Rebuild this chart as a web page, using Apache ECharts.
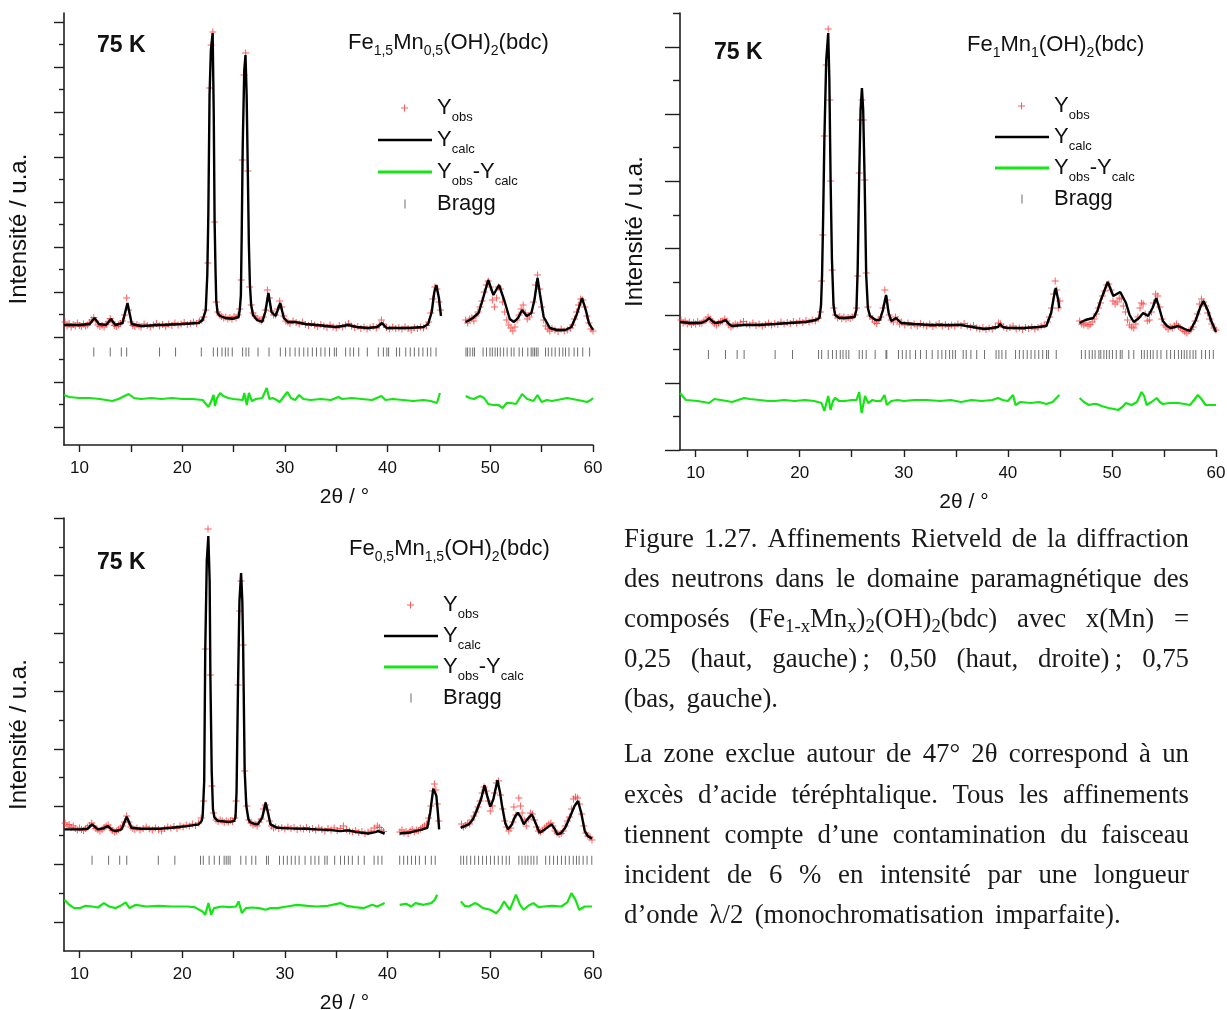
<!DOCTYPE html>
<html><head><meta charset="utf-8">
<script src="https://cdn.jsdelivr.net/npm/echarts@6/dist/echarts.min.js"></script>
<style>html,body{margin:0;padding:0;background:#fff}#c{width:1227px;height:1010px}</style>
</head><body><div id="c"></div>
<script>
// ---------------- DATA ----------------
const xTickValues = [10,15,20,25,30,35,40,45,50,55,60];
const xLabelValues = [10,20,30,40,50,60];

// panel 1 : Fe1,5Mn0,5(OH)2(bdc)
const p1Calc = [[8.5,1200],[10.0,1200],[11.0,1210],[11.46,1270],[11.9,1210],[12.6,1200],[13.07,1260],[13.5,1200],[14.2,1220],[14.68,1420],[15.1,1210],[16.0,1190],[17.8,1200],[20.0,1210],[21.6,1220],[22.0,1250],[22.3,1350],[22.45,1700],[22.55,2300],[22.67,3500],[22.8,3950],[22.97,4120],[23.08,3300],[23.16,2250],[23.25,1750],[23.32,1450],[23.45,1320],[23.7,1290],[24.2,1270],[24.9,1262],[25.5,1280],[25.62,1360],[25.72,1500],[25.8,2100],[25.9,3000],[26.05,3750],[26.17,3900],[26.28,3500],[26.4,2700],[26.5,2000],[26.6,1600],[26.72,1400],[26.9,1300],[27.3,1250],[27.8,1230],[28.1,1330],[28.4,1520],[28.7,1330],[29.1,1290],[29.55,1420],[29.9,1270],[30.3,1230],[31.0,1230],[32.0,1210],[33.1,1200],[35.0,1180],[36.2,1200],[37.0,1180],[38.1,1170],[39.0,1180],[39.45,1220],[39.9,1170],[40.8,1170],[42.0,1170],[43.5,1180],[43.95,1210],[44.3,1330],[44.55,1530],[44.75,1600],[45.0,1470],[45.2,1290],[46.4,null],[47.6,1230],[48.0,1250],[48.3,1270],[48.86,1320],[49.25,1450],[49.8,1650],[50.3,1500],[50.85,1600],[51.35,1450],[51.9,1260],[52.3,1230],[52.7,1270],[53.1,1350],[53.55,1290],[54.0,1320],[54.3,1450],[54.6,1670],[54.85,1500],[55.2,1280],[55.8,1170],[56.5,1150],[57.3,1150],[57.9,1180],[58.4,1300],[58.93,1470],[59.3,1350],[59.6,1220],[60.0,1150]];
const p1Obs = [[8.6,1230],[8.8,1190],[9.0,1215],[9.2,1180],[9.4,1205],[9.6,1190],[9.8,1220],[10.0,1195],[10.2,1185],[10.4,1210],[10.6,1190],[10.8,1200],[11.0,1225],[11.2,1250],[11.4,1275],[11.6,1240],[11.8,1200],[12.0,1185],[12.2,1195],[12.4,1180],[12.6,1210],[12.8,1230],[13.0,1265],[13.2,1230],[13.4,1195],[13.6,1185],[13.8,1200],[14.0,1215],[14.2,1240],[14.4,1300],[14.6,1470],[14.8,1350],[15.0,1230],[15.2,1195],[15.4,1185],[15.6,1205],[15.8,1190],[16.0,1180],[16.3,1210],[16.6,1195],[16.9,1180],[17.2,1200],[17.5,1215],[17.8,1190],[18.1,1205],[18.4,1185],[18.7,1210],[19.0,1195],[19.3,1220],[19.6,1200],[19.9,1210],[20.2,1225],[20.5,1205],[20.8,1215],[21.1,1230],[21.4,1215],[21.7,1240],[21.9,1250],[22.1,1280],[22.3,1350],[22.5,1820],[22.67,3570],[22.83,4000],[22.99,4130],[23.16,2230],[23.32,1430],[23.48,1330],[23.65,1300],[23.85,1285],[24.05,1270],[24.25,1280],[24.45,1260],[24.65,1275],[24.85,1260],[25.05,1285],[25.25,1270],[25.45,1300],[25.6,1360],[25.76,1650],[25.85,2850],[26.02,3700],[26.18,3920],[26.4,2740],[26.57,1580],[26.73,1400],[26.9,1320],[27.1,1290],[27.3,1265],[27.5,1250],[27.7,1240],[27.9,1280],[28.1,1350],[28.3,1550],[28.5,1470],[28.7,1340],[28.9,1300],[29.1,1300],[29.3,1360],[29.5,1440],[29.7,1380],[29.9,1290],[30.1,1240],[30.3,1230],[30.5,1215],[30.8,1240],[31.1,1225],[31.4,1210],[31.7,1230],[32.0,1205],[32.3,1195],[32.6,1215],[32.9,1200],[33.2,1185],[33.5,1205],[33.8,1190],[34.1,1175],[34.4,1200],[34.7,1180],[35.0,1170],[35.3,1195],[35.6,1180],[35.9,1200],[36.2,1215],[36.5,1190],[36.8,1175],[37.1,1185],[37.4,1165],[37.7,1180],[38.0,1160],[38.3,1175],[38.6,1185],[38.9,1170],[39.2,1200],[39.4,1250],[39.6,1210],[39.9,1175],[40.2,1160],[40.5,1180],[40.8,1165],[41.1,1175],[41.4,1160],[41.7,1180],[42.0,1165],[42.3,1150],[42.6,1175],[42.9,1165],[43.2,1180],[43.5,1170],[43.8,1195],[44.0,1230],[44.2,1320],[44.4,1460],[44.6,1580],[44.8,1560],[45.0,1430],[45.15,1350],[47.6,1250],[47.8,1220],[48.0,1260],[48.2,1270],[48.4,1240],[48.6,1290],[48.8,1330],[49.0,1380],[49.2,1440],[49.4,1530],[49.6,1600],[49.8,1640],[50.0,1580],[50.2,1450],[50.4,1380],[50.6,1470],[50.8,1580],[51.0,1560],[51.2,1430],[51.4,1330],[51.6,1250],[51.8,1200],[52.0,1170],[52.2,1140],[52.4,1180],[52.6,1250],[52.8,1300],[53.0,1360],[53.2,1400],[53.4,1320],[53.6,1260],[53.8,1280],[54.0,1320],[54.2,1430],[54.4,1600],[54.6,1700],[54.8,1560],[55.0,1380],[55.2,1250],[55.4,1190],[55.6,1160],[55.8,1140],[56.0,1165],[56.3,1150],[56.6,1135],[56.9,1160],[57.2,1140],[57.5,1150],[57.8,1170],[58.0,1200],[58.2,1260],[58.4,1330],[58.6,1400],[58.8,1460],[59.0,1450],[59.2,1380],[59.4,1290],[59.6,1220],[59.8,1160],[60.0,1140]];
const p1Diff = [[8.5,500],[9.0,480],[10.0,470],[11.0,470],[12.0,460],[13.2,440],[13.8,460],[14.8,510],[15.3,470],[16.0,460],[17.0,470],[18.0,460],[19.0,470],[20.0,460],[21.0,460],[22.0,450],[22.56,380],[22.8,430],[23.06,500],[23.2,390],[23.4,470],[23.7,520],[24.0,490],[24.5,470],[25.0,460],[25.9,450],[26.05,520],[26.3,400],[26.5,520],[26.8,440],[27.2,460],[27.8,470],[28.24,570],[28.5,460],[28.8,470],[29.2,450],[29.5,430],[29.8,470],[30.24,530],[30.6,470],[31.0,450],[31.4,500],[31.8,460],[32.5,450],[33.5,460],[34.5,450],[35.2,480],[35.6,460],[36.5,470],[37.5,460],[38.5,450],[39.4,490],[39.8,450],[40.5,460],[41.5,450],[42.5,440],[43.5,450],[44.2,440],[44.8,420],[45.1,520],[46.4,null],[47.6,490],[48.0,470],[48.4,460],[49.0,490],[49.4,470],[49.8,410],[50.3,400],[50.8,400],[51.2,370],[51.6,420],[52.0,420],[52.5,410],[53.1,510],[53.6,460],[54.2,440],[54.6,500],[55.0,430],[55.5,450],[56.0,440],[56.5,450],[57.0,460],[57.5,470],[58.0,460],[58.5,450],[59.0,440],[59.4,430],[59.8,450],[60.0,470]];
const p1Bragg = [11.4,13.0,14.08,14.6,17.8,19.36,21.87,23.04,23.44,23.88,24.21,24.48,24.88,25.89,26.22,26.49,27.39,28.46,29.56,30.07,30.5,31.0,31.4,31.84,32.24,32.68,33.08,33.51,33.91,34.35,34.82,35.02,35.92,36.35,36.69,37.19,38.03,39.1,39.6,39.93,40.1,40.87,41.17,41.77,42.21,42.61,43.04,43.44,43.88,44.21,44.72,47.63,47.79,48.03,48.29,48.46,49.3,49.63,49.97,50.2,50.47,50.7,50.97,51.3,51.64,52.04,52.31,52.81,53.14,53.65,53.98,54.15,54.31,54.48,54.65,55.38,55.65,55.99,56.32,56.72,57.06,57.32,57.66,58.16,58.5,59.0,59.67];
const p1BraggLevel = 930;
const p1YMajor = [180,630,1080,1530,1980,2430,2880,3330,3780,4230];
const p1YMinor = [405,855,1305,1755,2205,2655,3105,3555,4005];
const p1YMax = 4320;

// panel 2 : Fe1Mn1(OH)2(bdc)
const p2Calc = [[8.5,1280],[9.44,1270],[10.5,1270],[11.0,1290],[11.3,1320],[11.6,1290],[11.86,1270],[12.5,1280],[12.87,1300],[13.2,1260],[13.5,1240],[14.66,1250],[16.0,1250],[17.6,1260],[19.0,1270],[20.6,1280],[21.55,1300],[21.9,1320],[22.05,1450],[22.15,1750],[22.25,2300],[22.37,3100],[22.55,3900],[22.74,4170],[22.85,3700],[22.97,2700],[23.1,1900],[23.25,1450],[23.4,1350],[23.8,1320],[24.34,1320],[25.27,1330],[25.45,1400],[25.57,1800],[25.72,2750],[25.85,3400],[25.98,3620],[26.1,3400],[26.24,2700],[26.39,1750],[26.55,1420],[26.75,1340],[27.3,1300],[27.7,1300],[28.0,1400],[28.3,1550],[28.55,1370],[28.8,1290],[29.26,1320],[29.75,1270],[31.0,1260],[32.5,1250],[34.0,1250],[35.5,1250],[36.0,1240],[37.75,1210],[38.5,1220],[39.06,1230],[39.25,1260],[39.5,1230],[40.0,1220],[41.5,1220],[43.0,1230],[43.7,1240],[44.16,1370],[44.4,1520],[44.6,1620],[44.84,1500],[44.95,1420],[45.9,null],[46.9,1270],[47.44,1300],[48.2,1320],[48.6,1390],[48.9,1490],[49.3,1600],[49.6,1680],[50.13,1540],[50.8,1580],[51.35,1470],[51.7,1350],[52.1,1280],[52.6,1320],[53.0,1370],[53.48,1340],[53.9,1420],[54.26,1520],[54.6,1400],[54.9,1290],[55.3,1240],[55.64,1220],[56.38,1240],[57.0,1210],[57.5,1190],[58.06,1300],[58.5,1430],[58.8,1490],[59.2,1400],[59.55,1290],[60.0,1180]];
const p2Obs = [[8.6,1300],[8.8,1270],[9.0,1290],[9.2,1260],[9.4,1280],[9.6,1255],[9.8,1275],[10.0,1260],[10.2,1285],[10.4,1265],[10.6,1270],[10.8,1290],[11.0,1300],[11.2,1330],[11.4,1310],[11.6,1280],[11.8,1265],[12.0,1250],[12.2,1270],[12.4,1285],[12.6,1290],[12.8,1310],[13.0,1290],[13.2,1250],[13.4,1230],[13.6,1245],[13.8,1260],[14.0,1250],[14.3,1270],[14.6,1285],[14.9,1260],[15.2,1250],[15.5,1270],[15.8,1245],[16.1,1260],[16.4,1240],[16.7,1255],[17.0,1270],[17.3,1250],[17.6,1265],[17.9,1255],[18.2,1280],[18.5,1260],[18.8,1275],[19.1,1265],[19.4,1285],[19.7,1270],[20.0,1290],[20.3,1275],[20.6,1295],[20.9,1280],[21.2,1300],[21.5,1290],[21.8,1320],[22.0,1380],[22.1,1690],[22.22,2150],[22.37,3140],[22.55,3850],[22.74,4210],[22.9,3500],[22.97,2690],[23.12,1800],[23.28,1420],[23.45,1350],[23.65,1320],[23.85,1335],[24.05,1315],[24.25,1330],[24.45,1310],[24.65,1325],[24.85,1315],[25.05,1330],[25.3,1350],[25.45,1420],[25.57,1740],[25.72,2770],[25.85,3300],[25.98,3500],[26.12,3300],[26.24,2700],[26.39,1770],[26.55,1430],[26.75,1340],[27.0,1310],[27.2,1280],[27.4,1265],[27.6,1300],[27.8,1330],[28.0,1420],[28.18,1600],[28.4,1500],[28.6,1350],[28.8,1300],[29.0,1280],[29.2,1330],[29.4,1300],[29.6,1260],[29.8,1280],[30.1,1250],[30.4,1270],[30.7,1245],[31.0,1260],[31.3,1240],[31.6,1265],[31.9,1250],[32.2,1240],[32.5,1260],[32.8,1235],[33.1,1250],[33.4,1265],[33.7,1240],[34.0,1255],[34.3,1235],[34.6,1250],[34.9,1240],[35.2,1260],[35.5,1245],[35.8,1265],[36.1,1240],[36.4,1230],[36.7,1245],[37.0,1220],[37.3,1210],[37.6,1225],[37.9,1205],[38.2,1220],[38.5,1210],[38.8,1235],[39.1,1270],[39.3,1260],[39.6,1230],[39.9,1215],[40.2,1225],[40.5,1240],[40.8,1210],[41.1,1220],[41.4,1205],[41.7,1225],[42.0,1215],[42.3,1230],[42.6,1210],[42.9,1225],[43.2,1240],[43.5,1250],[43.8,1280],[44.0,1330],[44.2,1420],[44.4,1560],[44.55,1690],[44.7,1600],[44.85,1420],[45.0,1490],[46.9,1290],[47.1,1260],[47.3,1250],[47.5,1270],[47.7,1240],[47.9,1255],[48.1,1280],[48.3,1310],[48.5,1360],[48.7,1420],[48.9,1470],[49.1,1540],[49.3,1590],[49.5,1650],[49.7,1660],[49.9,1600],[50.1,1490],[50.3,1460],[50.5,1480],[50.7,1520],[50.9,1510],[51.1,1440],[51.3,1380],[51.5,1300],[51.7,1250],[51.9,1230],[52.1,1220],[52.3,1260],[52.5,1330],[52.7,1420],[52.85,1470],[53.0,1460],[53.2,1360],[53.4,1290],[53.6,1300],[53.8,1380],[54.0,1470],[54.2,1560],[54.4,1540],[54.6,1430],[54.8,1310],[55.0,1250],[55.2,1230],[55.4,1210],[55.6,1230],[55.8,1220],[56.0,1240],[56.2,1260],[56.4,1235],[56.6,1220],[56.8,1200],[57.0,1185],[57.2,1170],[57.4,1190],[57.6,1205],[57.8,1230],[58.0,1290],[58.2,1360],[58.4,1460],[58.6,1510],[58.8,1480],[59.0,1440],[59.2,1370],[59.4,1310],[59.6,1260],[59.8,1220],[60.0,1200]];
const p2Diff = [[8.5,570],[9.07,500],[10.2,490],[11.3,470],[11.8,510],[12.4,500],[13.0,490],[13.5,480],[14.66,520],[15.2,510],[16.15,500],[17.0,490],[17.6,490],[18.5,500],[19.5,490],[20.5,500],[21.4,490],[22.1,470],[22.37,390],[22.74,540],[22.97,400],[23.2,490],[23.4,520],[23.8,490],[24.34,490],[25.0,500],[25.46,500],[25.72,580],[25.95,370],[26.28,540],[26.58,470],[27.0,500],[27.3,490],[27.8,490],[28.15,550],[28.37,450],[28.8,490],[29.4,500],[30.0,490],[31.0,500],[32.2,500],[33.5,490],[34.5,500],[35.5,480],[36.5,500],[37.5,490],[38.5,500],[39.06,520],[39.5,500],[40.0,490],[40.5,550],[40.74,450],[41.2,480],[42.2,470],[43.0,480],[43.7,460],[44.3,480],[44.95,550],[45.9,null],[46.9,520],[47.3,480],[47.8,450],[48.2,460],[48.55,460],[49.0,440],[49.68,420],[50.2,410],[50.6,400],[51.0,430],[51.35,470],[51.9,450],[52.4,480],[52.85,580],[53.1,540],[53.33,450],[53.8,480],[54.3,520],[54.6,480],[54.9,460],[55.5,470],[56.38,470],[57.0,460],[57.5,450],[57.9,500],[58.25,550],[58.6,510],[59.0,450],[59.5,450],[60.0,450]];
const p2Bragg = [11.23,12.87,13.99,14.66,17.64,19.31,21.81,22.11,22.74,23.15,23.52,23.9,24.16,24.46,24.72,25.72,26.02,26.39,27.25,28.29,28.37,29.49,29.86,30.23,30.6,31.13,31.61,32.17,32.73,33.29,33.66,34.03,34.4,34.7,34.96,35.71,36.0,36.45,37.01,37.76,38.87,39.14,39.43,39.81,40.74,41.11,41.48,41.86,42.23,42.6,42.97,43.35,43.72,43.9,44.65,47.07,47.44,47.82,48.11,48.38,48.75,48.93,49.23,49.49,49.75,50.05,50.42,50.8,50.98,51.62,52.1,52.85,53.11,53.4,53.7,53.96,54.34,54.71,55.27,55.64,56.01,56.39,56.69,56.95,57.2,57.5,57.8,58.06,58.62,58.99,59.37,59.74];
const p2BraggLevel = 955;
const p2YMajor = [0,672,1344,2016,2688,3360,4032];
const p2YMinor = [336,1008,1680,2352,3024,3696,4368];
const p2YMax = 4370;

// panel 3 : Fe0,5Mn1,5(OH)2(bdc)
const p3Calc = [[8.54,1216],[10.08,1216],[10.8,1222],[11.23,1266],[11.8,1216],[12.3,1226],[12.76,1249],[13.2,1209],[13.53,1199],[14.1,1216],[14.6,1343],[15.07,1232],[16.0,1222],[17.76,1222],[19.0,1232],[20.45,1249],[21.6,1266],[21.9,1300],[22.0,1350],[22.15,1700],[22.25,3000],[22.4,3900],[22.55,4150],[22.68,3700],[22.75,2750],[22.88,1800],[23.0,1420],[23.15,1333],[23.5,1299],[23.9,1299],[24.5,1289],[25.05,1299],[25.2,1340],[25.3,1600],[25.44,2650],[25.58,3500],[25.74,3780],[25.86,3500],[25.94,3050],[26.09,1800],[26.25,1450],[26.45,1320],[26.6,1289],[27.0,1273],[27.36,1266],[27.8,1333],[28.13,1484],[28.4,1366],[28.6,1266],[29.28,1232],[30.5,1226],[32.0,1222],[33.1,1216],[34.5,1209],[35.4,1199],[36.2,1206],[36.96,1189],[38.1,1175],[38.8,1189],[39.07,1199],[39.72,1175],[40.4,null],[41.18,1175],[42.0,1182],[42.72,1199],[43.4,1216],[43.87,1232],[44.15,1383],[44.45,1624],[44.75,1551],[44.9,1383],[45.02,1216],[46.0,null],[47.13,1232],[47.5,1249],[47.9,1266],[48.3,1316],[48.66,1400],[49.1,1517],[49.44,1658],[49.7,1551],[50.0,1443],[50.3,1517],[50.7,1708],[50.95,1584],[51.15,1450],[51.45,1283],[51.72,1216],[52.1,1266],[52.4,1343],[52.68,1383],[53.0,1333],[53.26,1266],[53.6,1316],[54.05,1366],[54.4,1283],[54.8,1182],[55.3,1216],[55.97,1266],[56.3,1216],[56.54,1165],[56.9,1182],[57.3,1232],[57.8,1350],[58.2,1450],[58.54,1500],[58.85,1383],[59.2,1199],[59.5,1149],[59.9,1122]];
const p3Obs = [[8.6,1280],[8.8,1250],[9.0,1265],[9.2,1235],[9.4,1250],[9.6,1225],[9.8,1210],[10.0,1230],[10.2,1215],[10.4,1205],[10.6,1225],[10.8,1240],[11.0,1255],[11.2,1280],[11.4,1250],[11.6,1225],[11.8,1210],[12.0,1200],[12.2,1215],[12.4,1235],[12.6,1250],[12.8,1260],[13.0,1230],[13.2,1205],[13.4,1190],[13.6,1200],[13.8,1215],[14.0,1230],[14.2,1250],[14.4,1290],[14.6,1350],[14.8,1290],[15.0,1240],[15.2,1225],[15.4,1215],[15.6,1230],[15.9,1210],[16.2,1225],[16.5,1240],[16.8,1220],[17.1,1210],[17.4,1230],[17.7,1215],[18.0,1200],[18.3,1225],[18.6,1240],[18.9,1230],[19.2,1245],[19.5,1225],[19.8,1250],[20.1,1240],[20.4,1260],[20.7,1250],[21.0,1270],[21.3,1255],[21.6,1280],[21.85,1330],[22.1,1500],[22.25,3020],[22.52,4220],[22.75,2760],[22.9,1650],[23.05,1380],[23.3,1310],[23.5,1295],[23.7,1310],[23.9,1300],[24.1,1285],[24.3,1300],[24.5,1290],[24.7,1305],[24.9,1295],[25.1,1330],[25.25,1500],[25.44,2660],[25.6,3400],[25.74,3700],[25.94,3060],[26.09,1800],[26.3,1450],[26.5,1310],[26.7,1280],[26.9,1260],[27.1,1270],[27.3,1250],[27.5,1290],[27.7,1320],[27.9,1420],[28.1,1460],[28.3,1410],[28.5,1300],[28.7,1250],[28.9,1230],[29.1,1240],[29.4,1225],[29.7,1235],[30.0,1220],[30.3,1240],[30.6,1225],[30.9,1235],[31.2,1215],[31.5,1230],[31.8,1220],[32.1,1235],[32.4,1215],[32.7,1225],[33.0,1210],[33.3,1230],[33.6,1215],[33.9,1200],[34.2,1225],[34.5,1210],[34.8,1230],[35.1,1205],[35.4,1225],[35.7,1250],[36.0,1215],[36.3,1200],[36.6,1190],[36.9,1205],[37.2,1185],[37.5,1195],[37.8,1175],[38.1,1190],[38.4,1200],[38.7,1230],[39.0,1250],[39.2,1235],[39.4,1210],[39.6,1195],[41.2,1190],[41.4,1210],[41.6,1180],[41.8,1195],[42.0,1175],[42.2,1200],[42.4,1215],[42.6,1190],[42.8,1210],[43.0,1205],[43.2,1220],[43.4,1235],[43.6,1250],[43.8,1270],[44.0,1330],[44.2,1450],[44.4,1600],[44.56,1670],[44.7,1610],[44.85,1470],[45.0,1300],[47.2,1270],[47.4,1240],[47.6,1255],[47.8,1280],[48.0,1270],[48.2,1310],[48.4,1350],[48.6,1390],[48.8,1440],[49.0,1500],[49.2,1580],[49.4,1640],[49.6,1600],[49.8,1500],[50.0,1400],[50.2,1450],[50.4,1580],[50.6,1680],[50.8,1700],[51.0,1560],[51.2,1420],[51.4,1300],[51.6,1240],[51.8,1200],[52.0,1230],[52.2,1290],[52.3,1440],[52.5,1360],[52.78,1530],[52.95,1450],[53.1,1380],[53.3,1310],[53.5,1250],[53.7,1320],[53.9,1380],[54.1,1370],[54.3,1310],[54.5,1240],[54.7,1200],[54.9,1190],[55.1,1210],[55.3,1230],[55.5,1250],[55.7,1270],[55.9,1280],[56.1,1250],[56.3,1200],[56.5,1180],[56.7,1165],[56.9,1175],[57.1,1200],[57.3,1250],[57.5,1300],[57.7,1340],[57.9,1420],[58.1,1520],[58.3,1540],[58.5,1530],[58.7,1470],[58.9,1370],[59.1,1250],[59.3,1180],[59.5,1150],[59.7,1140],[59.9,1110]];
const p3Diff = [[8.54,512],[9.0,462],[9.5,429],[10.08,429],[10.6,452],[11.23,445],[11.8,435],[12.38,479],[12.9,445],[13.53,429],[14.0,452],[14.5,486],[14.88,429],[15.5,462],[16.5,445],[17.76,452],[19.0,445],[20.45,445],[21.2,439],[21.98,395],[22.25,362],[22.56,479],[22.83,362],[23.1,429],[23.9,445],[24.6,439],[25.25,445],[25.5,496],[25.82,378],[26.2,429],[26.8,435],[27.5,429],[28.13,412],[28.6,429],[29.28,429],[30.2,445],[31.2,462],[32.2,452],[33.1,445],[34.2,452],[35.4,479],[36.0,452],[36.8,439],[37.7,429],[38.5,462],[39.0,445],[39.72,479],[40.4,null],[41.18,462],[41.8,472],[42.3,445],[42.72,479],[43.5,462],[44.26,479],[44.6,512],[44.83,563],[46.0,null],[47.13,496],[47.5,452],[47.9,445],[48.5,479],[48.85,462],[49.3,429],[50.0,412],[50.58,378],[51.0,429],[51.34,496],[51.9,412],[52.5,563],[52.9,462],[53.26,412],[53.7,452],[54.2,479],[54.7,439],[55.2,445],[56.0,452],[56.92,445],[57.5,486],[57.9,579],[58.3,512],[58.66,412],[59.2,445],[59.9,445]];
const p3Bragg = [11.23,12.84,13.92,14.61,17.68,19.29,21.79,22.06,22.63,23.13,23.63,24.09,24.29,24.48,24.67,25.71,26.21,26.78,27.17,28.21,28.4,29.48,29.86,30.24,30.63,31.01,31.39,31.97,32.54,32.93,33.31,33.89,34.12,34.85,35.42,35.81,36.19,36.57,37.15,37.73,38.69,39.07,39.45,41.18,41.57,41.95,42.33,42.72,43.1,43.68,44.26,44.64,47.13,47.4,47.71,48.09,48.48,48.86,49.25,49.63,50.02,50.4,50.78,51.17,51.55,51.86,52.78,53.09,53.39,53.66,53.97,54.24,54.55,55.39,55.78,56.16,56.54,56.93,57.31,57.69,58.08,58.39,58.65,59.04,59.42,59.88];
const p3BraggLevel = 908;
const p3YMajor = [291,868,1445,2022,2599,3176,3753,4330];
const p3YMinor = [580,1157,1734,2311,2888,3465,4042];
const p3YMax = 4330;

const panelFormulas = [
  '{m|Fe}{s|1,5}{m|Mn}{s|0,5}{m|(OH)}{s|2}{m|(bdc)}',
  '{m|Fe}{s|1}{m|Mn}{s|1}{m|(OH)}{s|2}{m|(bdc)}',
  '{m|Fe}{s|0,5}{m|Mn}{s|1,5}{m|(OH)}{s|2}{m|(bdc)}'
];
const tempLabel = '75 K';
const yName = 'Intensité / u.a.';
const xName = '2θ / °';
const legendText = {
  'Yobs': '{m|Y}{s|obs}',
  'Ycalc': '{m|Y}{s|calc}',
  'Yobs-Ycalc': '{m|Y}{s|obs}{m|-Y}{s|calc}',
  'Bragg': '{m|Bragg}'
};
const captionLines = [
  {t: 'Figure 1.27. Affinements Rietveld de la diffraction', j: true},
  {t: 'des neutrons dans le domaine paramagnétique des', j: true},
  {t: 'composés (Fe_{1-x}Mn_{x})_{2}(OH)_{2}(bdc) avec x(Mn) =', j: true},
  {t: '0,25 (haut, gauche)\u2009; 0,50 (haut, droite)\u2009; 0,75', j: true},
  {t: '(bas, gauche).', j: false},
  {t: 'La zone exclue autour de 47° 2θ correspond à un', j: true},
  {t: 'excès d’acide téréphtalique. Tous les affinements', j: true},
  {t: 'tiennent compte d’une contamination du faisceau', j: true},
  {t: 'incident de 6 % en intensité par une longueur', j: true},
  {t: 'd’onde λ/2 (monochromatisation imparfaite).', j: false}
];

// ---------------- LAYOUT / STYLE ----------------
const SANS = '"Liberation Sans", Arial, Helvetica, sans-serif';
const SERIF = '"Liberation Serif", "Times New Roman", serif';
const AX = '#1e1e1e';
const panels = [
  {grid: {left: 64, top: 13, width: 529, height: 432}, calc: p1Calc, obs: p1Obs, diff: p1Diff, bragg: p1Bragg, bl: p1BraggLevel, maj: p1YMajor, min: p1YMinor, ymax: p1YMax, majLen: 10, minLen: 5,
   formula: {left: 348, top: 28}, temp: {left: 97, top: 31}, legend: {left: 378, top: 92, lh: 32}},
  {grid: {left: 680, top: 13, width: 536, height: 437}, calc: p2Calc, obs: p2Obs, diff: p2Diff, bragg: p2Bragg, bl: p2BraggLevel, maj: p2YMajor, min: p2YMinor, ymax: p2YMax, majLen: 15, minLen: 7,
   formula: {left: 967, top: 30}, temp: {left: 714, top: 38}, legend: {left: 995, top: 90.5, lh: 31}},
  {grid: {left: 64, top: 518, width: 529, height: 433}, calc: p3Calc, obs: p3Obs, diff: p3Diff, bragg: p3Bragg, bl: p3BraggLevel, maj: p3YMajor, min: p3YMinor, ymax: p3YMax, majLen: 10, minLen: 5,
   formula: {left: 349, top: 534}, temp: {left: 97, top: 548}, legend: {left: 384, top: 589.5, lh: 31}}
];
const plusSymbol = 'path://M3,0h1v7h-1zM0,3h7v1h-7z';
const plusIcon = 'path://M0,0M54,12M26,2.5h1v7h-1zM23,5.5h7v1h-7z';
const lineIcon = 'path://M0,0M54,12M0,4.8h54v2.4h-54z';
const greenLineIcon = 'path://M0,0M54,12M0,4.6h54v2.8h-54z';
const braggIcon = 'path://M0,0M54,12M26.5,1.5h1v9h-1z';

function legendRich(lh) {
  return {
    m: {fontSize: 22, lineHeight: lh, verticalAlign: 'middle', fontFamily: SANS, color: '#111'},
    s: {fontSize: 13, lineHeight: 3, verticalAlign: 'bottom', fontFamily: SANS, color: '#111'}
  };
}
const formulaRich = {
  m: {fontSize: 22, lineHeight: 30, verticalAlign: 'middle', fontFamily: SANS, color: '#111'},
  s: {fontSize: 14, lineHeight: 8, verticalAlign: 'bottom', fontFamily: SANS, color: '#111'}
};

const grids = [], xAxes = [], yAxes = [], series = [], titles = [], legends = [];
panels.forEach((p, i) => {
  grids.push(Object.assign({outerBoundsMode: 'none', containLabel: false}, p.grid));
  xAxes.push({
    gridIndex: i, type: 'value', min: 8.5, max: 60,
    name: xName, nameLocation: 'middle', nameGap: 42,
    nameTextStyle: {fontSize: 21, color: '#111', fontFamily: SANS, padding: [0, 0, 0, 32]},
    axisLine: {show: true, onZero: false, lineStyle: {color: AX, width: 1.6}},
    axisTick: {show: true, inside: false, length: 7, customValues: xTickValues, lineStyle: {color: AX, width: 1.4}},
    axisLabel: {show: true, customValues: xLabelValues, fontSize: 17, color: '#111', fontFamily: SANS, margin: 15},
    splitLine: {show: false}, minorTick: {show: false}
  });
  yAxes.push({
    gridIndex: i, type: 'value', position: 'left', min: 0, max: p.ymax,
    name: yName, nameLocation: 'middle', nameGap: 33,
    nameTextStyle: {fontSize: 24, color: '#111', fontFamily: SANS},
    axisLine: {show: true, onZero: false, lineStyle: {color: AX, width: 1.6}},
    axisTick: {show: true, inside: false, length: p.majLen, customValues: p.maj, lineStyle: {color: AX, width: 1.4}},
    axisLabel: {show: false}, splitLine: {show: false}
  });
  yAxes.push({
    gridIndex: i, type: 'value', position: 'left', offset: 0, min: 0, max: p.ymax,
    axisLine: {show: false},
    axisTick: {show: true, inside: false, length: p.minLen, customValues: p.min, lineStyle: {color: AX, width: 1.4}},
    axisLabel: {show: false}, splitLine: {show: false}
  });
  const yi = 2 * i;
  series.push({type: 'scatter', name: 'Yobs', xAxisIndex: i, yAxisIndex: yi, data: p.obs, symbol: plusSymbol, symbolSize: 7,
    itemStyle: {color: '#ff3535'}, z: 2, silent: true});
  series.push({type: 'line', name: 'Ycalc', xAxisIndex: i, yAxisIndex: yi, data: p.calc, showSymbol: false, symbol: 'none',
    connectNulls: false, lineStyle: {color: '#000', width: 2.4}, itemStyle: {color: '#000'}, z: 3, silent: true});
  series.push({type: 'line', name: 'Yobs-Ycalc', xAxisIndex: i, yAxisIndex: yi, data: p.diff, showSymbol: false, symbol: 'none',
    connectNulls: false, lineStyle: {color: '#14e614', width: 2.2}, itemStyle: {color: '#14e614'}, z: 3, silent: true});
  series.push({type: 'scatter', name: 'Bragg', xAxisIndex: i, yAxisIndex: yi, data: p.bragg.map(x => [x, p.bl]),
    symbol: 'rect', symbolSize: [1, 9], itemStyle: {color: '#4a4a4a'}, z: 2, silent: true});
  titles.push({text: panelFormulas[i], left: p.formula.left, top: p.formula.top, padding: 0,
    textStyle: {fontWeight: 'normal', fontFamily: SANS, color: '#111', rich: formulaRich}});
  titles.push({text: tempLabel, left: p.temp.left, top: p.temp.top, padding: 0,
    textStyle: {fontSize: 23, fontWeight: 'bold', lineHeight: 30, fontFamily: SANS, color: '#111'}});
  legends.push({
    orient: 'vertical', left: p.legend.left, top: p.legend.top, padding: 0, itemGap: 0,
    itemWidth: 54, itemHeight: 12, selectedMode: false, symbolKeepAspect: true,
    itemStyle: {borderWidth: 0},
    data: [
      {name: 'Yobs', icon: plusIcon},
      {name: 'Ycalc', icon: lineIcon},
      {name: 'Yobs-Ycalc', icon: greenLineIcon},
      {name: 'Bragg', icon: braggIcon}
    ],
    formatter: n => legendText[n],
    textStyle: {fontSize: 22, lineHeight: p.legend.lh, color: '#111', fontFamily: SANS, rich: legendRich(p.legend.lh)}
  });
});

// caption (justified text built from measured word widths)
function parseSegs(w) {
  const out = []; const re = /_\{([^}]*)\}/g; let last = 0, mm;
  while ((mm = re.exec(w))) {
    if (mm.index > last) out.push({text: w.slice(last, mm.index), sub: false});
    out.push({text: mm[1], sub: true});
    last = re.lastIndex;
  }
  if (last < w.length) out.push({text: w.slice(last), sub: false});
  return out;
}
function buildCaption() {
  const ctx = document.createElement('canvas').getContext('2d');
  const meas = (t, s) => { ctx.font = s + 'px ' + SERIF; return ctx.measureText(t).width; };
  const left = 624, right = 1189;
  const lineY = [540, 580, 620, 660, 700, 755, 796, 836, 876, 916];
  // font size chosen so that the first line's words with ordinary 10px gaps fill the column
  const firstWords = captionLines[0].t.split(' ');
  const w22 = firstWords.reduce((a, w) => a + meas(w, 22), 0);
  const size = 22 * (right - left - 10 * (firstWords.length - 1)) / w22;
  const subSize = size * 0.7;
  const els = [];
  captionLines.forEach((ln, i) => {
    const words = ln.t.split(' ').map(parseSegs);
    const widths = words.map(segs => segs.reduce((a, g) => a + meas(g.text, g.sub ? subSize : size), 0));
    const total = widths.reduce((a, b) => a + b, 0);
    const gap = (ln.j && words.length > 1) ? (right - left - total) / (words.length - 1) : size * 0.42;
    let x = left;
    words.forEach(segs => {
      segs.forEach(g => {
        const fs = g.sub ? subSize : size;
        els.push({type: 'text', x: x, y: g.sub ? lineY[i] + size * 0.28 : lineY[i], silent: true,
          style: {text: g.text, fontSize: fs, fontFamily: SERIF, fill: '#1a1a1a', verticalAlign: 'middle', align: 'left'}});
        x += meas(g.text, fs);
      });
      x += gap;
    });
  });
  return els;
}

const chart = echarts.init(document.getElementById('c'), null, {renderer: 'canvas'});
chart.setOption({
  animation: false,
  backgroundColor: '#ffffff',
  grid: grids, xAxis: xAxes, yAxis: yAxes, series: series,
  title: titles, legend: legends,
  graphic: buildCaption()
});
</script>
</body></html>
